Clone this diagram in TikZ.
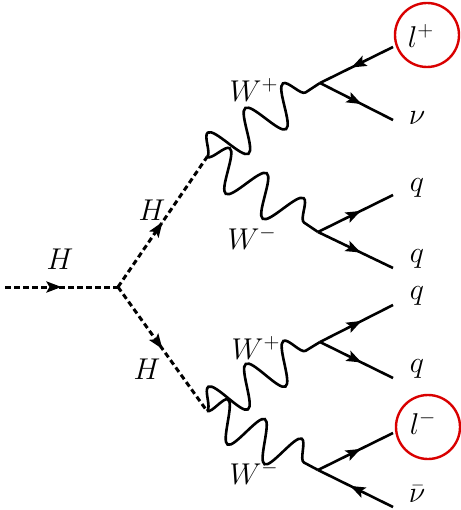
\documentclass[tikz,border=0pt]{standalone}
\usetikzlibrary{decorations.pathmorphing,decorations.markings,arrows.meta}
\newcommand{\dlab}[1]{\scalebox{1.45}{$#1$}}
\begin{document}
\begin{tikzpicture}[x=1pt,y=-1pt,
  lbl/.style={inner sep=0pt,font=\fontsize{20.74}{25}\selectfont},
  higgs/.style={line width=3pt,dash pattern=on 5.5pt off 3.5pt,
    postaction={decorate},decoration={markings,mark=at position 0.5 with {\arrow{Stealth[length=15pt,width=11pt,inset=3pt]}}}},
  fermion/.style={line width=2.6pt,
    postaction={decorate},decoration={markings,mark=at position 0.57 with {\arrow{Stealth[length=15pt,width=11pt,inset=3pt]}}}},
  antifermion/.style={line width=2.6pt,
    postaction={decorate},decoration={markings,mark=at position 0.43 with {\arrowreversed{Stealth[length=15pt,width=11pt,inset=3pt]}}}},
  photon/.style={line width=2.6pt,decorate,decoration={snake,amplitude=20pt,segment length=#1}},
  ring/.style={draw=red!85!black,line width=2.4pt,circle,minimum size=64pt,inner sep=0pt}]
\useasboundingbox (0,0) rectangle (460,510);
% vertices
\coordinate (hin) at (5,287);
\coordinate (v0) at (118,287);
\coordinate (vu) at (207,157);
\coordinate (vd) at (207,411);
\coordinate (wa) at (320,83);
\coordinate (wb) at (318,232);
\coordinate (wc) at (320,342);
\coordinate (wd) at (318,470);
\coordinate (e1) at (393,47);
\coordinate (e2) at (393,120);
\coordinate (e3) at (393,195);
\coordinate (e4) at (393,268);
\coordinate (e5) at (393,305);
\coordinate (e6) at (393,378);
\coordinate (e7) at (393,433);
\coordinate (e8) at (393,507);
% Higgs lines
\draw[higgs] (hin) -- (v0);
\draw[higgs] (v0) -- (vu);
\draw[higgs] (v0) -- (vd);
% W lines
\draw[photon=44.9pt] (vu) -- (wa);
\draw[photon=44.6pt] (vu) -- (wb);
\draw[photon=44.0pt] (vd) -- (wc);
\draw[photon=41.8pt] (vd) -- (wd);
% fermions
\draw[antifermion] (wa) -- (e1);
\draw[fermion] (wa) -- (e2);
\draw[fermion] (wb) -- (e3);
\draw[fermion] (wb) -- (e4);
\draw[fermion] (wc) -- (e5);
\draw[fermion] (wc) -- (e6);
\draw[fermion] (wd) -- (e7);
\draw[antifermion] (wd) -- (e8);
% labels
\node[lbl] (hl0) at (60,259) {\dlab{H}};
\node[lbl] (hl1) at (152,210) {\dlab{H}};
\node[lbl] (hl2) at (147,369) {\dlab{H}};
\node[lbl] (wl1) at (254,90) {\dlab{W^+}};
\node[lbl] (wl2) at (252,238) {\dlab{W^-}};
\node[lbl] (wl3) at (256,348) {\dlab{W^+}};
\node[lbl] (wl4) at (254,473) {\dlab{W^-}};
\node[lbl] (f1) at (421,36) {\dlab{l^+}};
\node[lbl] (f2) at (417,118) {\dlab{\nu}};
\node[lbl] (f3) at (417,188) {\dlab{q}};
\node[lbl] (f4) at (417,259) {\dlab{q}};
\node[lbl] (f5) at (417,296) {\dlab{q}};
\node[lbl] (f6) at (417,369) {\dlab{q}};
\node[lbl] (f7) at (423,423) {\dlab{l^-}};
\node[lbl] (f8) at (417,494) {\dlab{\bar\nu}};
\node[ring] (r1) at (427,35) {};
\node[ring] (r2) at (428,427) {};
\end{tikzpicture}
\end{document}
